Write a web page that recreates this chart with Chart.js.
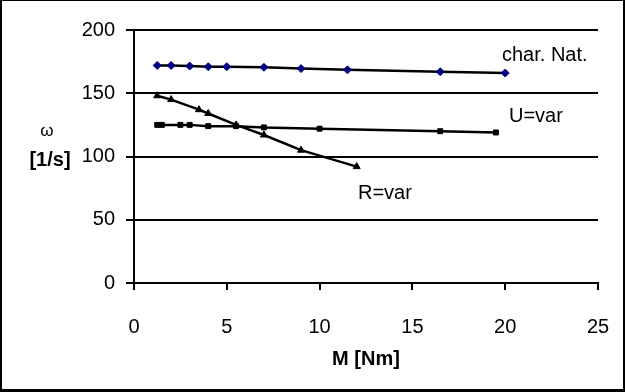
<!DOCTYPE html>
<html>
<head>
<meta charset="utf-8">
<script src="https://cdn.jsdelivr.net/npm/chart.js@4"></script>
<style>
html,body{margin:0;padding:0;background:#fff;}
#wrap{width:625px;height:392px;position:relative;}
</style>
</head>
<body>
<div id="wrap"><canvas id="c" width="625" height="392"></canvas></div>
<script>
// Data
const natX = [1.25, 2, 3, 4, 5, 7, 9, 11.5, 16.5, 20];
const natY = [172, 172, 171.5, 171, 171, 170.5, 169.5, 168.5, 167, 166];
const uX = [1.25, 1.5, 2.5, 3, 4, 5.5, 7, 10, 16.5, 19.5];
const uY = [125, 125, 125, 125, 124, 124, 123, 122, 120, 119];
const rX = [1.25, 2, 3.5, 4, 5.5, 7, 9, 12];
const rY = [148, 145, 137, 134, 125, 117, 105, 92];
const seriesNames = ['char. Nat.', 'U=var', 'R=var'];
const xTitle = 'M [Nm]';
const yTitleTop = 'ω';
const yTitleBottom = '[1/s]';

const pts = (xs, ys) => xs.map((x, i) => ({x: x, y: ys[i]}));
const FONT = '"Liberation Sans", Arial, sans-serif';

const annot = {
  id: 'annot',
  afterDraw(chart) {
    const ctx = chart.ctx;
    const a = chart.chartArea;
    ctx.save();
    ctx.fillStyle = '#000';
    // series labels
    ctx.font = '20px ' + FONT;
    ctx.textAlign = 'left';
    ctx.textBaseline = 'middle';
    ctx.fillText(seriesNames[0], 502, 55);
    ctx.fillText(seriesNames[1], 509, 116);
    ctx.fillText(seriesNames[2], 358, 193);
    // axis titles
    ctx.textAlign = 'center';
    ctx.font = 'bold 20px ' + FONT;
    ctx.fillText(xTitle, (a.left + a.right) / 2, 359);
    ctx.fillText(yTitleBottom, 50, 160);
    ctx.font = '17px ' + FONT;
    ctx.fillText(yTitleTop, 47, 131);
    // outer frame
    ctx.fillRect(0, 0, 625, 1);
    ctx.fillRect(0, 0, 2, 392);
    ctx.fillRect(623, 0, 2, 392);
    ctx.fillRect(0, 389, 625, 3);
    ctx.restore();
  }
};

new Chart(document.getElementById('c'), {
  type: 'scatter',
  data: {
    datasets: [
      {
        label: seriesNames[0], data: pts(natX, natY), showLine: true,
        borderColor: '#000', borderWidth: 2.5,
        pointStyle: 'rectRot', pointRadius: 4,
        pointBackgroundColor: '#000080', pointBorderColor: '#000080', pointBorderWidth: 1
      },
      {
        label: seriesNames[1], data: pts(uX, uY), showLine: true,
        borderColor: '#000', borderWidth: 2.5,
        pointStyle: 'rect', pointRadius: 3.5,
        pointBackgroundColor: '#000', pointBorderColor: '#000', pointBorderWidth: 1
      },
      {
        label: seriesNames[2], data: pts(rX, rY), showLine: true,
        borderColor: '#000', borderWidth: 2.5,
        pointStyle: 'triangle', pointRadius: 4,
        pointBackgroundColor: '#000', pointBorderColor: '#000', pointBorderWidth: 1
      }
    ]
  },
  options: {
    responsive: false,
    animation: false,
    events: [],
    layout: {padding: {left: 0, top: 30, right: 27, bottom: 0}},
    plugins: {legend: {display: false}, tooltip: {enabled: false}, title: {display: false}},
    scales: {
      x: {
        type: 'linear', min: 0, max: 25,
        afterFit(s) { s.height = 109; s.paddingLeft = 0; s.paddingRight = 0; },
        ticks: {stepSize: 5, color: '#000', font: {family: FONT, size: 20}, padding: 25, maxRotation: 0},
        grid: {drawOnChartArea: false, drawTicks: true, tickLength: 7, color: '#000', lineWidth: 2},
        border: {display: true, color: '#000', width: 2}
      },
      y: {
        type: 'linear', min: 0, max: 200,
        afterFit(s) { s.width = 134; s.paddingTop = 0; s.paddingBottom = 0; },
        ticks: {stepSize: 50, color: '#000', font: {family: FONT, size: 20}, padding: 11},
        grid: {drawOnChartArea: true, drawTicks: true, tickLength: 8, color: '#000', lineWidth: 2},
        border: {display: true, color: '#000', width: 2}
      }
    }
  },
  plugins: [annot]
});
</script>
</body>
</html>
